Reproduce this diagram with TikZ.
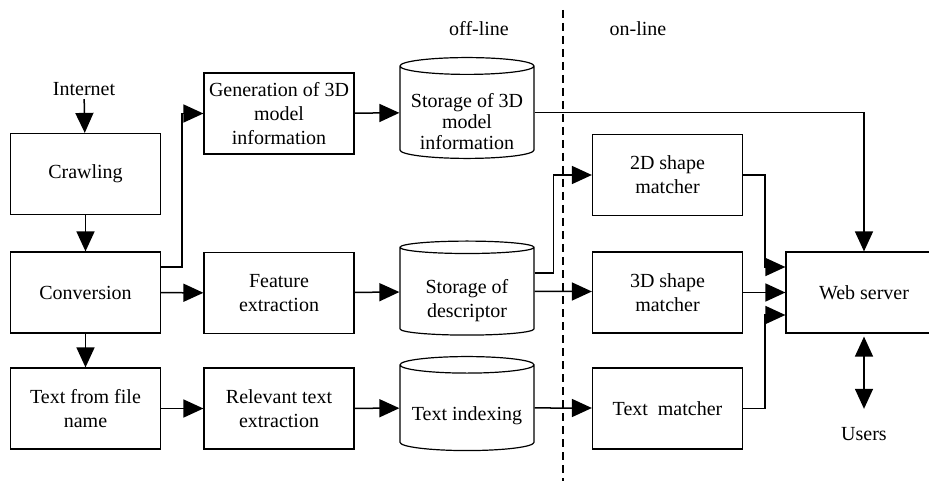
\documentclass[tikz,border=0pt]{standalone}
\usepackage{fontspec}
\setmainfont{Liberation Serif}
\usetikzlibrary{arrows.meta,shapes.geometric}

\newcommand{\blockfont}{\fontsize{20}{24}\selectfont}

\tikzset{
	block/.style={draw, line width=1.2pt, minimum width=150pt, minimum height=81pt, align=center, inner sep=0pt, font=\blockfont},
	% text depth 0 and a given text height put the lines a bit below the middle of the drum
	store/.style={draw, cylinder, shape border rotate=90, aspect=0.15, line width=1.2pt, minimum width=134pt, minimum height=94pt, align=center, inner sep=0pt, font=\blockfont,
		text depth=0pt, text height=#1},
	flow/.style={->, line width=1.5pt},
	tag/.style={font=\blockfont}
}

\begin{document}
\begin{tikzpicture}[x=1pt, y=-1pt, >={Triangle[length=20pt, width=18pt]}]
	\clip (0,0) rectangle (929,481);

	\node[tag] (inet) at (84,89) {Internet};
	\node[block] (crawl) at (85.5,174) {Crawling};
	\node[block] (conv) at (85.5,292.5) {Conversion};
	\node[block] (fname) at (85.5,408.5) {Text from file\\name};

	\node[block] (gen) at (279,113.5) {Generation of 3D\\model\\information};
	\node[block] (feat) at (279,293) {Feature\\extraction};
	\node[block] (rel) at (279,408.5) {Relevant text\\extraction};

	\node[store=75pt, font=\fontsize{20}{21}\selectfont] (s3d) at (467,112.5) {Storage of 3D\\model\\information};
	\node[store=51pt] (desc) at (467,291.5) {Storage of\\descriptor};
	\node[store=24pt] (tidx) at (467,408) {Text indexing};

	\node[block] (m2d) at (667.5,175) {2D shape\\matcher};
	\node[block] (m3d) at (667.5,292.5) {3D shape\\matcher};
	\node[block] (mtxt) at (667.5,408.5) {Text\ \ matcher};

	\node[block, minimum width=156pt] (web) at (864,292.5) {Web server};
	\node[tag] (users) at (864,434) {Users};

	% off-line / on-line split
	\node[tag] (off) at (479,29) {off-line};
	\node[tag] (on) at (638,29) {on-line};
	\coordinate (splittop) at (563,10);
	\coordinate (splitbot) at (563,481);
	\draw[line width=1.2pt, dash pattern=on 8pt off 5pt] (splittop) -- (splitbot);

	\draw[flow] (inet) -- (crawl);
	\draw[flow] (crawl) -- (conv);
	\draw[flow] (conv) -- (fname);
	\draw[flow] ([yshift=25.5pt]conv.east) -- ++(21,0) |- (gen.west);
	\draw[flow] (conv) -- (feat);
	\draw[flow] (fname) -- (rel);

	\draw[flow] (gen) -- (s3d);
	\draw[flow] (feat) -- (desc);
	\draw[flow] (rel) -- (tidx);

	\draw[flow] ([yshift=18.5pt]desc.east) -- ++(19,0) |- (m2d.west);
	\draw[flow] (desc) -- (desc -| m3d.west);
	\draw[flow] (tidx) -- (tidx -| mtxt.west);
	\draw[flow] (s3d.east) -| (web.north);

	\draw[flow] (m2d.east) -- ++(22,0) |- ([yshift=25.5pt]web.west);
	\draw[flow] (m3d) -- (web);
	\draw[flow] (mtxt.east) -- ++(22,0) |- ([yshift=-22.5pt]web.west);
	\draw[flow, <->] ([yshift=-3pt]web.south) -- ([yshift=15pt]users.north);
\end{tikzpicture}
\end{document}
